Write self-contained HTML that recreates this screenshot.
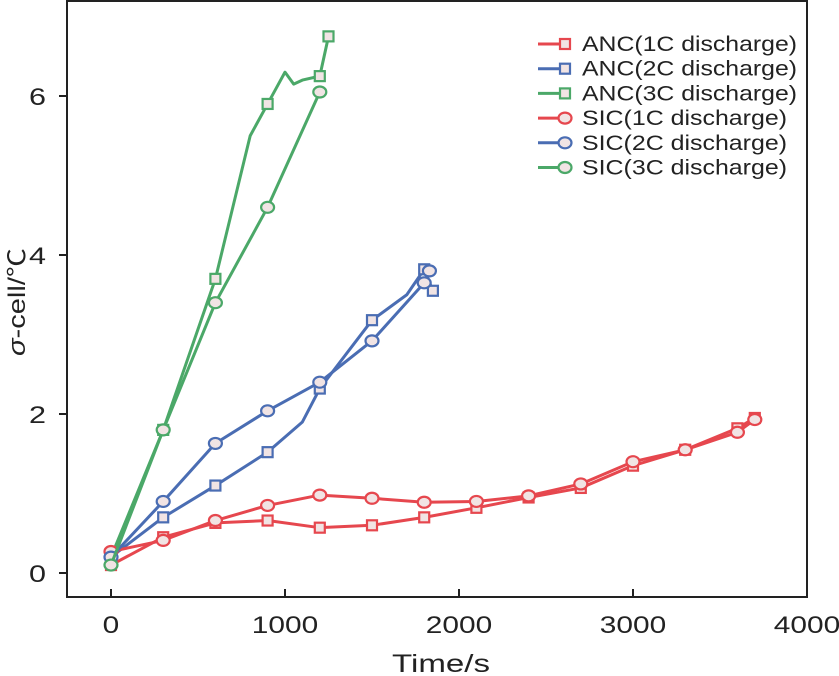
<!DOCTYPE html>
<html><head><meta charset="utf-8"><style>
body{margin:0;background:#fff}
svg{display:block;font-family:"Liberation Sans","Noto Sans CJK SC",sans-serif}
</style></head><body>
<svg id="chart" width="839" height="676"></svg>
<script>
const xTicks=[0,1000,2000,3000,4000];
const yTicks=[0,2,4,6];
const labels=["ANC(1C discharge)","ANC(2C discharge)","ANC(3C discharge)","SIC(1C discharge)","SIC(2C discharge)","SIC(3C discharge)"];
const colors=["#e6474e","#4a6db3","#4ba868","#e6474e","#4a6db3","#4ba868"];
const markers=["sq","sq","sq","ci","ci","ci"];
const anc1T=[0,300,600,900,1200,1500,1800,2100,2400,2700,3000,3300,3600,3700];
const anc1V=[0.1,0.45,0.63,0.66,0.57,0.6,0.7,0.82,0.95,1.07,1.35,1.55,1.82,1.95];
const anc2T=[0,300,600,900,1100,1200,1500,1700,1800,1850];
const anc2V=[0.2,0.7,1.1,1.52,1.9,2.32,3.18,3.5,3.82,3.55];
const anc3T=[0,300,600,700,800,900,950,1000,1050,1100,1200,1250];
const anc3V=[0.2,1.8,3.7,4.6,5.5,5.9,6.1,6.3,6.15,6.2,6.25,6.75];
const sic1T=[0,300,600,900,1200,1500,1800,2100,2400,2700,3000,3300,3600,3700];
const sic1V=[0.27,0.41,0.66,0.85,0.98,0.94,0.89,0.9,0.97,1.12,1.4,1.55,1.77,1.93];
const sic2T=[0,300,600,900,1200,1500,1800,1830];
const sic2V=[0.2,0.9,1.63,2.04,2.4,2.92,3.65,3.8];
const sic3T=[0,300,600,900,1200];
const sic3V=[0.1,1.8,3.4,4.6,6.05];
const markT=[anc1T,[0,300,600,900,1200,1500,1800,1850],[0,300,600,900,1200,1250],sic1T,sic2T,sic3T];
const series=[[anc1T,anc1V],[anc2T,anc2V],[anc3T,anc3V],[sic1T,sic1V],[sic2T,sic2V],[sic3T,sic3V]];
const L=67,R=807,T=1,B=597;
const xs=v=>111+v*(R-111)/4000;
const ys=v=>573-v*79.5;
const NS="http://www.w3.org/2000/svg";
const svg=document.getElementById('chart');
function mk(tag,at,parent){const e=document.createElementNS(NS,tag);for(const k in at)e.setAttribute(k,at[k]);(parent||svg).appendChild(e);return e;}
const frame=mk('rect',{x:L,y:T,width:R-L,height:B-T,fill:'none',stroke:'#222','stroke-width':2});


xTicks.forEach(t=>{
  const l=mk('line',{x1:xs(t),x2:xs(t),y1:B,y2:B-8,stroke:'#222','stroke-width':2});
  
  
  const s=String(t);
  const tx=mk('text',{x:xs(t)-s.length*8.3,y:B+36,'font-size':24,fill:'#222',textLength:s.length*16.6,lengthAdjust:'spacingAndGlyphs'});
  tx.textContent=s;
  
  
});
yTicks.forEach(t=>{
  const l=mk('line',{x1:L-8,x2:L,y1:ys(t),y2:ys(t),stroke:'#222','stroke-width':2});
  
  
  const tx=mk('text',{x:L-38,y:ys(t)+9,'font-size':24,fill:'#222',textLength:17,lengthAdjust:'spacingAndGlyphs'});
  tx.textContent=t;
  
  
});
const xt=mk('text',{x:392,y:672,'font-size':25,fill:'#222',textLength:98,lengthAdjust:'spacingAndGlyphs'});
xt.textContent='Time/s';


const yt=mk('text',{x:0,y:0,'font-size':24,fill:'#222',transform:'translate(25,356) rotate(-90)',textLength:108,lengthAdjust:'spacingAndGlyphs'});
yt.innerHTML='<tspan font-style="italic">σ</tspan>-cell/℃';


function marker(type,x,y,c,g){
  if(type==='sq'){return mk('rect',{x:x-5,y:y-5,width:10,height:10,fill:'#f1e4e4',stroke:c,'stroke-width':2.2},g);}
  return mk('ellipse',{cx:x,cy:y,rx:6.5,ry:5.5,fill:'#f1e4e4',stroke:c,'stroke-width':2.2},g);
}
series.forEach((s,i)=>{
  const g=mk('g',{});
  
  
  const pts=s[0].map((t,j)=>xs(t)+','+ys(s[1][j])).join(' ');
  const pl=mk('polyline',{points:pts,fill:'none',stroke:colors[i],'stroke-width':3,'stroke-linejoin':'round'},g);
  
  
  markT[i].forEach(t=>{
    const j=s[0].indexOf(t);
    if(j<0)return;
    const m=marker(markers[i],xs(t),ys(s[1][j]),colors[i],g);
    
    
  });
});
const lg=mk('g',{});


labels.forEach((lab,i)=>{
  const y=44+i*24.7;
  const e=mk('g',{},lg);
  
  
  mk('line',{x1:538,x2:565,y1:y,y2:y,stroke:colors[i],'stroke-width':3},e);
  marker(markers[i],565,y,colors[i],e);
  const tx=mk('text',{x:582,y:y+7,'font-size':21,fill:'#222',textLength:i<3?215:205,lengthAdjust:'spacingAndGlyphs'},e);
  tx.textContent=lab;
});
</script>
</body></html>
